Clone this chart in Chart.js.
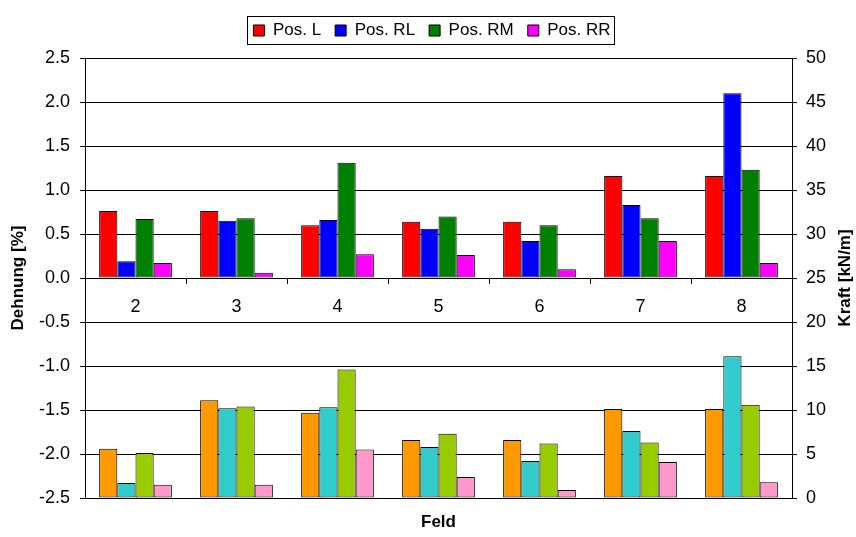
<!DOCTYPE html>
<html>
<head>
<meta charset="utf-8">
<script src="https://cdn.jsdelivr.net/npm/chart.js@4/dist/chart.umd.min.js"></script>
<style>
html, body { margin: 0; padding: 0; background: #fff; }
#wrap { width: 856px; height: 537px; }
</style>
</head>
<body>
<div id="wrap"><canvas id="chart"></canvas></div>
<script>
// Feld numbers
const felder = ['2', '3', '4', '5', '6', '7', '8'];

// Dehnung [%] (upper bars, left axis)
const posL  = [0.76, 0.76, 0.60, 0.64, 0.64, 1.16, 1.16];
const posRL = [0.19, 0.65, 0.66, 0.56, 0.42, 0.83, 2.10];
const posRM = [0.67, 0.68, 1.31, 0.70, 0.60, 0.68, 1.23];
const posRR = [0.17, 0.06, 0.27, 0.26, 0.10, 0.42, 0.17];

// Kraft [kN/m] (lower bars, right axis)
const kraftL  = [5.6, 11.1, 9.7, 6.6, 6.6, 10.1, 10.1];
const kraftRL = [1.7, 10.2, 10.3, 5.8, 4.2, 7.6, 16.1];
const kraftRM = [5.1, 10.4, 14.6, 7.3, 6.2, 6.3, 10.6];
const kraftRR = [1.5, 1.5, 5.5, 2.4, 0.9, 4.1, 1.8];

const FONT = "'Liberation Sans', Arial, sans-serif";
Chart.defaults.font.family = FONT;
Chart.defaults.color = '#000';

// upper and lower bar of the same position share one slot (stack name)
function bar(label, data, color, yId, slot) {
    return {
        label: label,
        data: data,
        backgroundColor: color,
        borderColor: '#000',
        borderWidth: 1,
        borderSkipped: false,
        xAxisID: 'x',
        yAxisID: yId,
        stack: slot,
        categoryPercentage: 0.72,
        barPercentage: 1.0
    };
}

const extras = {
    id: 'extras',
    beforeInit(chart) {
        // some extra room below the legend
        const fit = chart.legend.fit;
        chart.legend.fit = function () {
            fit.call(this);
            this.height += 9;
        };
    },
    afterDraw(chart) {
        const ctx = chart.ctx;
        // frame round the legend
        const boxes = chart.legend.legendHitBoxes;
        if (boxes && boxes.length) {
            let x0 = Infinity, x1 = -Infinity, y0 = Infinity, y1 = -Infinity;
            boxes.forEach(b => {
                x0 = Math.min(x0, b.left); x1 = Math.max(x1, b.left + b.width);
                y0 = Math.min(y0, b.top); y1 = Math.max(y1, b.top + b.height);
            });
            ctx.save();
            ctx.strokeStyle = '#000';
            ctx.lineWidth = 1;
            ctx.strokeRect(Math.round(x0 - 6) + 0.5, Math.round(y0 - 6) + 0.5,
                Math.round(x1 - x0 + 10), Math.round(y1 - y0 + 11));
            ctx.restore();
        }
        // right axis title, reading bottom to top
        const s = chart.scales.y2;
        const ca = chart.chartArea;
        ctx.save();
        ctx.translate(s.right - 11, (ca.top + ca.bottom) / 2);
        ctx.rotate(-Math.PI / 2);
        ctx.font = 'bold 17px ' + FONT;
        ctx.fillStyle = '#000';
        ctx.textAlign = 'center';
        ctx.textBaseline = 'middle';
        ctx.fillText('Kraft [kN/m]', 0, 0);
        ctx.restore();
    }
};

new Chart(document.getElementById('chart'), {
    type: 'bar',
    data: {
        labels: felder,
        datasets: [
            bar('Pos. L',  posL,  '#FF0000', 'y', 's0'),
            bar('Pos. RL', posRL, '#0000FF', 'y', 's1'),
            bar('Pos. RM', posRM, '#008000', 'y', 's2'),
            bar('Pos. RR', posRR, '#FF00FF', 'y', 's3'),
            bar('Kraft L',  kraftL,  '#FF9900', 'y2', 's0'),
            bar('Kraft RL', kraftRL, '#33CCCC', 'y2', 's1'),
            bar('Kraft RM', kraftRM, '#99CC00', 'y2', 's2'),
            bar('Kraft RR', kraftRR, '#FF99CC', 'y2', 's3')
        ]
    },
    options: {
        responsive: true,
        maintainAspectRatio: false,
        animation: false,
        layout: { padding: { top: 8, left: 8, right: 0, bottom: 0 } },
        plugins: {
            tooltip: { enabled: false },
            legend: {
                position: 'top',
                labels: {
                    filter: item => item.datasetIndex < 4,
                    boxWidth: 11,
                    boxHeight: 11,
                    padding: 14,
                    font: { size: 17 },
                    color: '#000'
                }
            }
        },
        scales: {
            x: {
                type: 'category',
                stacked: true,
                position: { y: 0 },
                grid: { drawOnChartArea: false, drawTicks: true, tickLength: 5, color: '#000', offset: true },
                border: { color: '#000' },
                ticks: { font: { size: 18 }, color: '#000', padding: 13 }
            },
            // empty axis, only carries the "Feld" title at the bottom
            x2: {
                type: 'category',
                labels: felder,
                position: 'bottom',
                grid: { display: false },
                border: { display: false },
                ticks: { display: false },
                title: { display: true, text: 'Feld', font: { size: 17, weight: 'bold' }, padding: { top: 0, bottom: 4 } },
                afterFit: s => { s.height = 39; }
            },
            y: {
                position: 'left',
                stacked: false,
                min: -2.5,
                max: 2.5,
                ticks: { stepSize: 0.5, callback: v => v.toFixed(1), font: { size: 18 }, padding: 10 },
                grid: { color: '#000', tickLength: 5 },
                border: { color: '#000' },
                title: { display: true, text: 'Dehnung [%]', font: { size: 17, weight: 'bold' }, padding: 0 },
                afterFit: s => { s.width = 77; }
            },
            y2: {
                position: 'right',
                stacked: false,
                min: 0,
                max: 50,
                ticks: { stepSize: 5, font: { size: 18 }, padding: 9 },
                grid: { drawOnChartArea: false, color: '#000', tickLength: 5 },
                border: { color: '#000' },
                afterFit: s => { s.width = 64; }
            }
        }
    },
    plugins: [extras]
});
</script>
</body>
</html>
